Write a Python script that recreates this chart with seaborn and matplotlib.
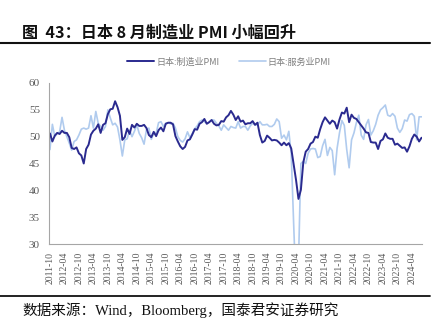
import matplotlib
matplotlib.use("Agg")
import matplotlib.pyplot as plt
from matplotlib.lines import Line2D
import numpy as np
import pandas as pd
import seaborn as sns

# Monthly series, 2011-10 .. 2024-08
months = list(pd.period_range("2011-10", "2024-08", freq="M").strftime("%Y-%m"))

manufacturing = [
    50.6, 49.1, 50.2,
    50.7, 50.5, 51.1, 50.7, 50.7, 49.9, 47.9, 47.7, 48.0, 46.9, 46.5, 45.0,
    47.7, 48.5, 50.4, 51.1, 51.5, 52.3, 50.7, 52.2, 52.5, 54.2, 55.1, 55.2,
    56.6, 55.5, 53.9, 49.4, 49.9, 51.5, 50.5, 52.2, 51.7, 52.4, 52.0, 52.0,
    52.2, 51.6, 50.3, 49.9, 50.9, 50.1, 51.2, 51.7, 51.0, 52.4, 52.6, 52.6,
    52.3, 50.1, 49.1, 48.2, 47.7, 48.1, 49.3, 49.5, 50.4, 51.4, 51.3, 52.4,
    52.7, 53.3, 52.4, 52.7, 53.1, 52.4, 52.1, 52.2, 52.9, 52.8, 53.6, 54.0,
    54.8, 54.1, 53.1, 53.8, 52.8, 53.0, 52.3, 52.5, 52.5, 52.9, 52.2, 52.6,
    50.3, 48.9, 49.2, 50.2, 49.8, 49.3, 49.4, 49.3, 48.9, 48.4, 48.9, 48.4,
    48.8, 47.8, 44.8, 41.9, 38.4, 40.1, 45.2, 47.2, 47.7, 48.7, 49.0, 50.0,
    49.8, 51.4, 52.7, 53.6, 53.0, 52.4, 53.0, 52.7, 51.5, 53.2, 54.5, 54.3,
    55.4, 52.7, 54.1, 53.5, 53.3, 52.7, 52.1, 51.5, 50.8, 50.7, 49.0, 48.9,
    48.9, 47.7, 49.2, 49.5, 50.6, 49.8, 49.6, 49.6, 48.5, 48.7, 48.3, 47.9,
    48.0, 47.2, 48.2, 49.6, 50.4, 50.0, 49.1, 49.8,
]

services = [
    47.6, 52.3, 50.0,
    50.6, 50.9, 53.6, 51.2, 50.0, 48.8, 47.5, 49.1, 49.4, 50.3, 51.4, 51.6,
    51.4, 51.6, 53.9, 51.6, 54.7, 52.5, 51.9, 51.2, 51.9, 55.0, 53.5, 52.2,
    52.5, 51.8, 49.4, 46.4, 49.4, 49.6, 51.2, 50.0, 51.0, 52.2, 50.6, 49.8,
    48.6, 51.3, 51.6, 49.5, 50.6, 50.6, 52.6, 52.8, 51.9, 52.5, 52.6, 52.4,
    52.5, 51.6, 50.0, 49.3, 49.0, 49.6, 50.9, 49.8, 50.6, 51.5, 52.0, 52.8,
    53.1, 52.8, 52.5, 52.7, 53.1, 53.1, 52.5, 52.0, 51.2, 52.2, 51.7, 51.2,
    51.9, 51.7, 51.6, 52.8, 51.6, 51.9, 51.9, 51.2, 52.0, 52.5, 52.2, 52.2,
    52.8, 52.2, 52.2, 52.3, 51.9, 51.9, 52.3, 53.3, 52.8, 49.7, 50.3, 49.4,
    51.0, 46.8, 33.8, 21.5, 26.5, 45.0, 45.4, 45.0, 46.9, 47.7, 47.8, 47.7,
    46.1, 46.3, 48.3, 49.5, 46.5, 48.0, 47.4, 42.9, 47.8, 50.7, 53.0, 52.1,
    47.6, 44.2, 49.4, 50.7, 52.6, 54.0, 50.3, 49.5, 52.2, 53.2, 50.3, 51.1,
    52.3, 54.0, 55.0, 55.4, 55.9, 54.0, 53.8, 54.3, 53.8, 51.6, 50.8, 51.5,
    53.1, 52.9, 54.1, 54.3, 53.8, 49.4, 53.7, 53.7,
]

series_names = ["日本:制造业PMI", "日本:服务业PMI"]
series_colors = ["#2a2a8f", "#b0cbee"]
title_text = "图  43：日本 8 月制造业 PMI 小幅回升"
source_text = "数据来源：Wind，Bloomberg，国泰君安证券研究"
y_ticks = [30, 35, 40, 45, 50, 55, 60]

df = pd.DataFrame({
    "idx": np.arange(len(months)),
    "month": months,
    series_names[0]: manufacturing,
    series_names[1]: services,
})
long_df = df.melt(id_vars=["idx", "month"], value_vars=series_names,
                  var_name="series", value_name="pmi")

sns.set_style("white")
plt.rcParams["font.family"] = ["Liberation Serif", "Noto Sans CJK SC", "DejaVu Sans"]
cjk = ["Noto Sans CJK SC", "DejaVu Sans"]
serif = ["Liberation Serif", "Noto Sans CJK SC"]

fig = plt.figure(figsize=(4.45, 3.28), dpi=100)
ax = fig.add_axes([49 / 445, 1 - 244 / 328, (422 - 49) / 445, (244 - 83) / 328])

# light services line underneath, manufacturing line on top
for name, color, lw in [(series_names[1], series_colors[1], 1.2),
                        (series_names[0], series_colors[0], 1.4)]:
    sns.lineplot(data=long_df[long_df["series"] == name], x="idx", y="pmi",
                 color=color, linewidth=lw, ax=ax, legend=False)

ax.set_xlim(-0.4, len(months) - 0.8)
ax.set_ylim(30, 60)
ax.set_yticks(y_ticks)
ax.set_yticklabels([str(v) for v in y_ticks], family=serif, fontsize=8, color="#595959")
tick_pos = list(range(0, len(months), 6))
ax.set_xticks(tick_pos)
ax.set_xticklabels([months[i] for i in tick_pos], rotation=90, family=serif,
                   fontsize=7, color="#595959")
ax.set_xlabel("")
ax.set_ylabel("")

for side in ["top", "right"]:
    ax.spines[side].set_visible(False)
for side in ["left", "bottom"]:
    ax.spines[side].set_color("#a6a6a6")
    ax.spines[side].set_linewidth(0.8)
ax.tick_params(axis="both", which="major", direction="out", length=3.5, width=0.8,
               color="#a6a6a6", pad=2)
ax.tick_params(axis="y", pad=3)
ax.grid(False)

handles = [Line2D([0], [0], color=series_colors[0], lw=1.4),
           Line2D([0], [0], color=series_colors[1], lw=1.2)]
fig.legend(handles, series_names, loc="center", bbox_to_anchor=(229 / 445, 1 - 62 / 328),
           ncol=2, frameon=False, prop={"family": cjk, "size": 6.5},
           labelcolor="#7f7f7f", handlelength=3.0, handletextpad=0.2, columnspacing=2.2)

fig.text(22 / 445, 1 - 32.5 / 328, title_text, family=cjk, fontsize=11.6, fontweight="bold",
         ha="left", va="center", color="#111111")
fig.add_artist(Line2D([0, 430 / 445], [1 - 42.5 / 328] * 2, color="#111111", lw=1.5))
fig.add_artist(Line2D([0, 430 / 445], [1 - 295.5 / 328] * 2, color="#111111", lw=1.3))
fig.text(22 / 445, 1 - 310 / 328, source_text, family=serif,
         fontsize=10.5, ha="left", va="center", color="#111111")

fig.savefig("out.png", dpi=100)
